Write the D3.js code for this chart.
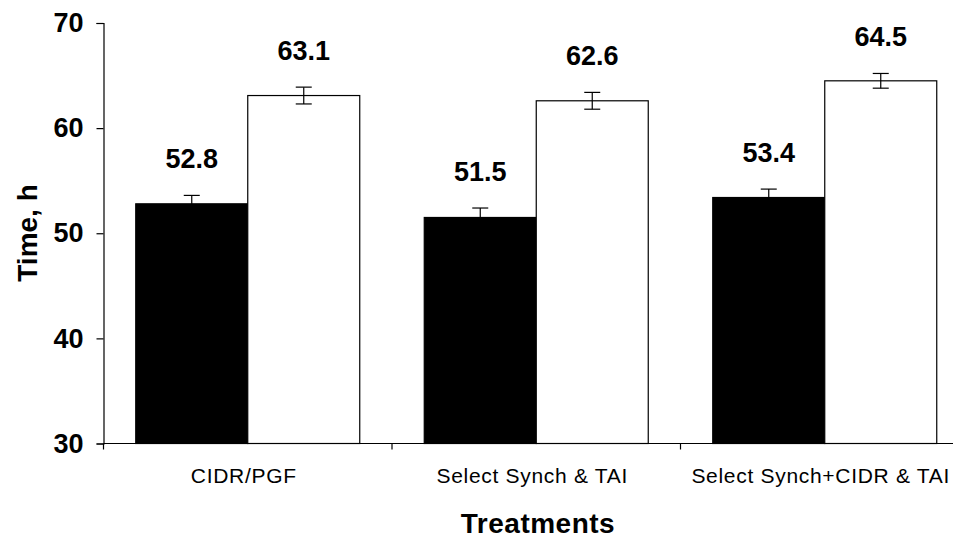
<!DOCTYPE html>
<html>
<head>
<meta charset="utf-8">
<script src="https://cdn.jsdelivr.net/npm/d3@7"></script>
<style>
  body { margin: 0; background: #fff; }
  text { font-family: Arial, "Liberation Sans", sans-serif; fill: #000; }
</style>
</head>
<body>
<script>
// data
const treatments = ["CIDR/PGF", "Select Synch & TAI", "Select Synch+CIDR & TAI"];
const seriesKeys = ["first", "second"];
const firstValues = [52.8, 51.5, 53.4];
const secondValues = [63.1, 62.6, 64.5];
const firstErrors = [0.8, 0.9, 0.8];
const secondErrors = [0.8, 0.8, 0.7];
const yTicks = [30, 40, 50, 60, 70];

const canvWidth = 953, canvHeight = 540;
const svg = d3.select("body").append("svg")
    .attr("width", canvWidth)
    .attr("height", canvHeight);

const fills = {first: "#000", second: "#fff"};

// plot area - the x axis runs past the right edge like in the picture
const plotLeft = 103.5, plotTop = 23, plotBottom = 443.5;
const plotRight = plotLeft + 3 * 288.5;

const x0 = d3.scaleBand().domain(treatments).range([plotLeft, plotRight]).padding(0);
const x1 = d3.scaleBand().domain(seriesKeys).range([0, x0.bandwidth()])
    .paddingInner(0).paddingOuter(0.288);
const y = d3.scaleLinear().domain([30, 70]).range([plotBottom, plotTop]);

const rows = treatments.map((t, i) => ({
  treatment: t,
  bars: [
    {key: "first", value: firstValues[i], err: firstErrors[i]},
    {key: "second", value: secondValues[i], err: secondErrors[i]}
  ]
}));

// bars
const groups = svg.append("g").selectAll("g")
    .data(rows)
    .enter().append("g")
    .attr("transform", d => "translate(" + x0(d.treatment) + ",0)");

const bar = groups.selectAll("g.bar")
    .data(d => d.bars)
    .enter().append("g")
    .attr("class", "bar");

bar.append("rect")
    .attr("x", d => x1(d.key))
    .attr("y", d => y(d.value))
    .attr("width", x1.bandwidth())
    .attr("height", d => y(30) - y(d.value))
    .attr("fill", d => fills[d.key])
    .attr("stroke", "#000")
    .attr("stroke-width", 1.2);

// error bars
const cx = d => x1(d.key) + x1.bandwidth() / 2;
bar.append("line")
    .attr("x1", cx).attr("x2", cx)
    .attr("y1", d => y(d.value - d.err))
    .attr("y2", d => y(d.value + d.err))
    .attr("stroke", "#000").attr("stroke-width", 1.2);
[-1, 1].forEach(s => {
  bar.append("line")
      .attr("x1", d => cx(d) - 8).attr("x2", d => cx(d) + 8)
      .attr("y1", d => y(d.value + s * d.err))
      .attr("y2", d => y(d.value + s * d.err))
      .attr("stroke", "#000").attr("stroke-width", 1.2);
});

// value labels
bar.append("text")
    .attr("x", cx)
    .attr("y", d => y(d.value + d.err) - 27)
    .attr("text-anchor", "middle")
    .attr("font-size", "27px")
    .attr("font-weight", "bold")
    .text(d => d.value.toFixed(1));

// y axis
const yAxis = svg.append("g")
    .attr("transform", "translate(" + plotLeft + ",0)")
    .call(d3.axisLeft(y).tickValues(yTicks).tickSize(7).tickPadding(13));
yAxis.select(".domain").attr("stroke-width", 1.2);
yAxis.selectAll(".tick line").attr("stroke-width", 1.2);
yAxis.selectAll(".tick text")
    .attr("font-size", "27px")
    .attr("font-weight", "bold")
    .attr("font-family", "Arial, 'Liberation Sans', sans-serif");

// x axis with ticks between categories
const xAxis = svg.append("g")
    .attr("transform", "translate(0," + plotBottom + ")");
xAxis.append("line")
    .attr("x1", plotLeft).attr("x2", plotRight)
    .attr("stroke", "#000").attr("stroke-width", 1.2);
xAxis.selectAll("line.sep")
    .data(treatments.concat(["end"]))
    .enter().append("line")
    .attr("class", "sep")
    .attr("x1", (d, i) => plotLeft + i * x0.step())
    .attr("x2", (d, i) => plotLeft + i * x0.step())
    .attr("y1", 0).attr("y2", 6)
    .attr("stroke", "#000").attr("stroke-width", 1.2);
xAxis.selectAll("text")
    .data(treatments)
    .enter().append("text")
    .attr("x", d => x0(d) + x0.bandwidth() / 2 - 4)
    .attr("y", 39)
    .attr("text-anchor", "middle")
    .attr("font-size", "21px")
    .attr("letter-spacing", "0.7px")
    .text(d => d);

// axis titles
svg.append("text")
    .attr("x", 538)
    .attr("y", 533)
    .attr("text-anchor", "middle")
    .attr("font-size", "28px")
    .attr("font-weight", "bold")
    .attr("letter-spacing", "0.5px")
    .text("Treatments");

svg.append("text")
    .attr("transform", "translate(37,233) rotate(-90)")
    .attr("text-anchor", "middle")
    .attr("font-size", "28px")
    .attr("font-weight", "bold")
    .text("Time, h");
</script>
</body>
</html>
